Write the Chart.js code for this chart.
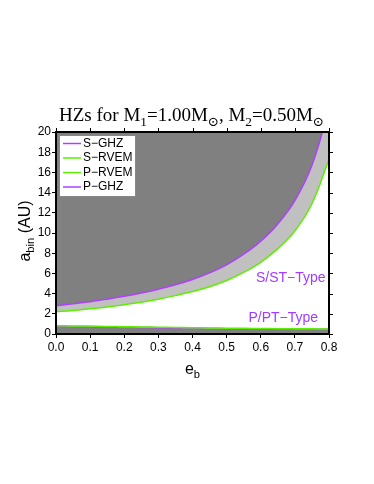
<!DOCTYPE html>
<html>
<head>
<meta charset="utf-8">
<script src="https://cdn.jsdelivr.net/npm/chart.js@4"></script>
<style>
  html, body { margin: 0; padding: 0; background: #fff; }
  #wrap { width: 374px; height: 484px; }
</style>
</head>
<body>
<div id="wrap"><canvas id="hzCanvas" width="374" height="484"></canvas></div>
<script>
/* HZ data */
const eb = [0.0, 0.05, 0.1, 0.15, 0.2, 0.25, 0.3, 0.35, 0.4, 0.45, 0.5, 0.55, 0.6, 0.65, 0.7, 0.75, 0.8];
const sGHZ  = [2.8, 3.0, 3.2, 3.45, 3.73, 4.05, 4.44, 4.88, 5.4, 6.05, 6.85, 7.9, 9.2, 10.9, 13.2, 16.7, 22.3];
const sRVEM = [2.2, 2.33, 2.5, 2.68, 2.9, 3.15, 3.45, 3.8, 4.2, 4.68, 5.3, 6.1, 7.1, 8.45, 10.2, 12.9, 17.3];
const pRVEM = [0.82, 0.8, 0.78, 0.75, 0.72, 0.7, 0.67, 0.65, 0.62, 0.6, 0.58, 0.56, 0.55, 0.53, 0.52, 0.51, 0.5];
const pGHZ  = [0.76, 0.74, 0.72, 0.69, 0.67, 0.65, 0.62, 0.6, 0.57, 0.55, 0.53, 0.52, 0.5, 0.49, 0.48, 0.47, 0.46];
const xTicks = [0, 0.1, 0.2, 0.3, 0.4, 0.5, 0.6, 0.7, 0.8];
const yTicks = [0, 2, 4, 6, 8, 10, 12, 14, 16, 18, 20];
const seriesNames = ["S\u2212GHZ", "S\u2212RVEM", "P\u2212RVEM", "P\u2212GHZ"];

const PURPLE = '#b040ff';
const GREEN = '#5cf000';
const DARK = '#808080';
const LIGHT = '#c0c0c0';

function pts(ys) {
  return eb.map((e, i) => ({ x: e, y: ys[i] }));
}

// draws runs of text with sub scripts: [text, isSub]
function drawRuns(ctx, runs, x, y, size, family, align) {
  let total = 0;
  runs.forEach(r => {
    ctx.font = (r[1] ? size * 0.7 : size) + 'px ' + family;
    total += ctx.measureText(r[0]).width;
  });
  let cx = align === 'center' ? x - total / 2 : x;
  runs.forEach(r => {
    ctx.font = (r[1] ? size * 0.7 : size) + 'px ' + family;
    ctx.fillText(r[0], cx, r[1] ? y + size * 0.28 : y);
    cx += ctx.measureText(r[0]).width;
  });
}

const decorations = {
  id: 'decorations',
  afterDraw(chart) {
    const ctx = chart.ctx;
    const a = chart.chartArea;
    const xs = chart.scales.x, ys = chart.scales.y;
    ctx.save();
    ctx.textAlign = 'left';
    ctx.textBaseline = 'alphabetic';
    ctx.fillStyle = '#000';

    // frame + top/right ticks
    ctx.strokeStyle = '#000';
    ctx.lineWidth = 2;
    ctx.strokeRect(a.left, a.top, a.right - a.left, a.bottom - a.top);
    ctx.lineWidth = 1;
    ctx.beginPath();
    xTicks.forEach(v => {
      const px = Math.round(xs.getPixelForValue(v)) + 0.5;
      ctx.moveTo(px, a.top); ctx.lineTo(px, a.top - 4);
    });
    yTicks.forEach(v => {
      const py = Math.round(ys.getPixelForValue(v)) + 0.5;
      ctx.moveTo(a.right, py); ctx.lineTo(a.right + 4, py);
    });
    ctx.stroke();

    // title
    const serif = '"Liberation Serif", "DejaVu Serif", serif';
    drawRuns(ctx, [['HZs for M', 0], ['1', 1], ['=1.00M', 0], ['\u2299', 1], [', M', 0], ['2', 1], ['=0.50M', 0], ['\u2299', 1]],
      (a.left + a.right) / 2 - 1, a.top - 11, 19, serif, 'center');

    // axis titles
    const sans = '"Liberation Sans", Arial, sans-serif';
    drawRuns(ctx, [['e', 0], ['b', 1]], (a.left + a.right) / 2, a.bottom + 40, 16, sans, 'center');
    ctx.save();
    ctx.translate(a.left - 26, (a.top + a.bottom) / 2 - 2);
    ctx.rotate(-Math.PI / 2);
    drawRuns(ctx, [['a', 0], ['bin', 1], [' (AU)', 0]], 0, 0, 16, sans, 'center');
    ctx.restore();

    // region labels
    ctx.fillStyle = '#a03cff';
    ctx.font = '14px ' + sans;
    ctx.textAlign = 'right';
    ctx.fillText('S/ST\u2212Type', xs.getPixelForValue(0.79), ys.getPixelForValue(5.1));
    ctx.fillText('P/PT\u2212Type', xs.getPixelForValue(0.768), ys.getPixelForValue(1.15));

    // legend box
    const lx = a.left + 3, ly = a.top + 3;
    ctx.fillStyle = '#fff';
    ctx.fillRect(lx, ly, 76, 61);
    ctx.strokeStyle = '#888';
    ctx.lineWidth = 1;
    ctx.strokeRect(lx + 0.5, ly + 0.5, 76, 61);
    ctx.textAlign = 'left';
    ctx.textBaseline = 'middle';
    ctx.font = '12px ' + sans;
    chart.data.datasets.forEach((ds, i) => {
      const yy = ly + 8.5 + i * 14.5;
      ctx.strokeStyle = ds.borderColor;
      ctx.lineWidth = 1.5;
      ctx.beginPath();
      ctx.moveTo(lx + 4, yy); ctx.lineTo(lx + 22, yy);
      ctx.stroke();
      ctx.fillStyle = '#000';
      ctx.fillText(ds.label, lx + 24, yy);
    });
    ctx.restore();
  }
};

const hzChart = new Chart(document.getElementById('hzCanvas'), {
  type: 'line',
  data: {
    datasets: [
      { label: seriesNames[0], data: pts(sGHZ), borderColor: PURPLE, backgroundColor: DARK, fill: 'end' },
      { label: seriesNames[1], data: pts(sRVEM), borderColor: GREEN, backgroundColor: LIGHT, fill: '-1' },
      { label: seriesNames[2], data: pts(pRVEM), borderColor: GREEN, backgroundColor: LIGHT, fill: '+1' },
      { label: seriesNames[3], data: pts(pGHZ), borderColor: PURPLE, backgroundColor: DARK, fill: 'origin' }
    ]
  },
  options: {
    responsive: false,
    animation: { duration: 0 },
    elements: {
      point: { radius: 0 },
      line: { borderWidth: 1.5, tension: 0.4 }
    },
    layout: { padding: { left: 0, top: 132, right: 45, bottom: 120 } },
    scales: {
      x: {
        type: 'linear', min: 0, max: 0.8,
        afterFit: s => { s.height = 30; },
        afterBuildTicks: s => { s.ticks = xTicks.map(v => ({ value: v })); },
        grid: { drawOnChartArea: false, drawTicks: true, tickLength: 4, color: '#000' },
        border: { color: '#000', width: 2 },
        ticks: { color: '#000', padding: 2, maxRotation: 0, font: { family: '"Liberation Sans", Arial, sans-serif', size: 12 },
          callback: v => v.toFixed(1) }
      },
      y: {
        min: 0, max: 20,
        afterFit: s => { s.width = 56; },
        afterBuildTicks: s => { s.ticks = yTicks.map(v => ({ value: v })); },
        grid: { drawOnChartArea: false, drawTicks: true, tickLength: 4, color: '#000' },
        border: { color: '#000', width: 2 },
        ticks: { color: '#000', padding: 1, font: { family: '"Liberation Sans", Arial, sans-serif', size: 12 } }
      }
    },
    plugins: {
      legend: { display: false },
      tooltip: { enabled: false },
      filler: { propagate: false }
    }
  },
  plugins: [decorations]
});
</script>
</body>
</html>
